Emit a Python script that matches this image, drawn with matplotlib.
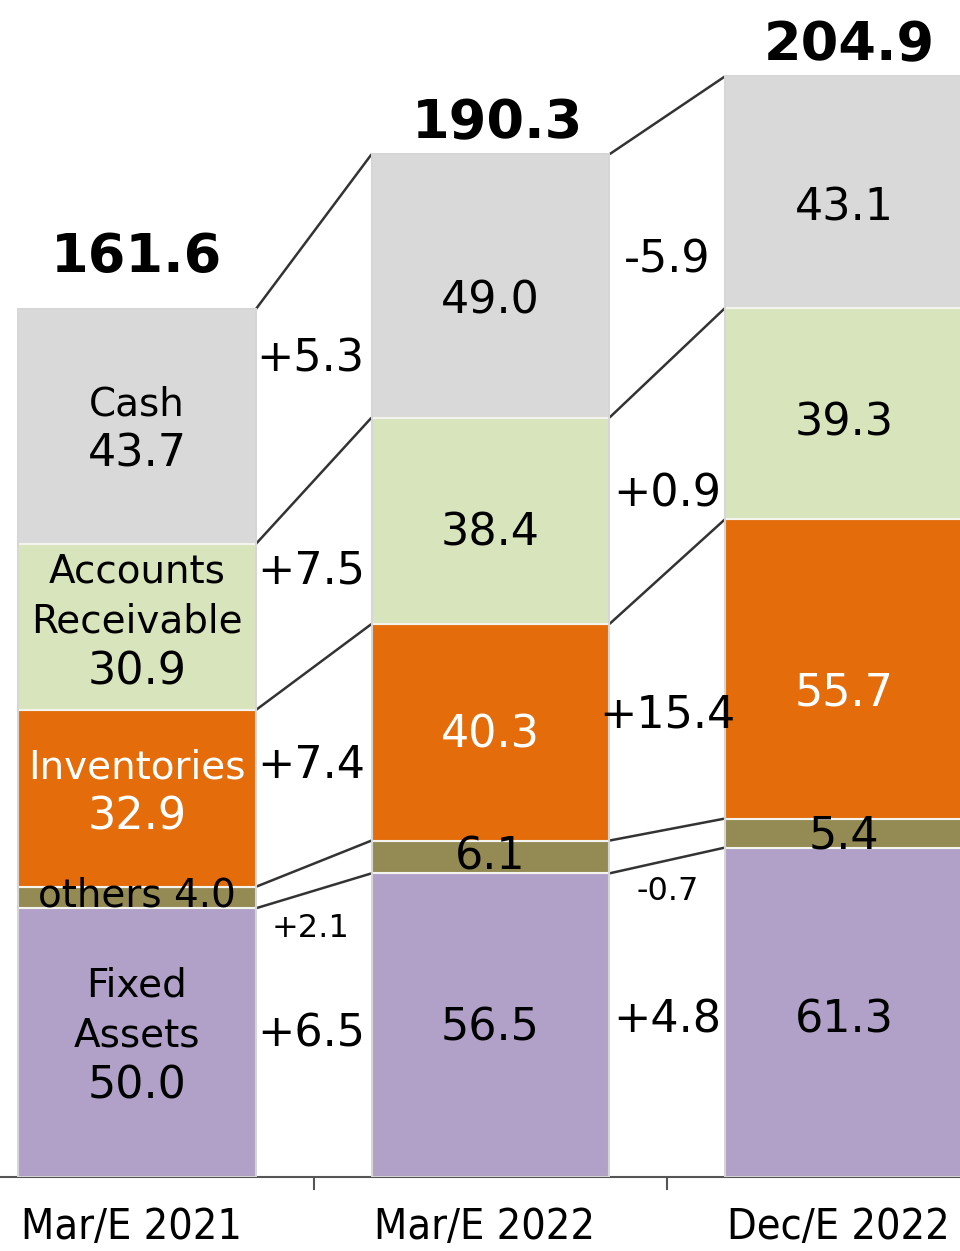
import matplotlib
matplotlib.use("Agg")
import matplotlib.pyplot as plt
from matplotlib.transforms import ScaledTranslation
import numpy as np

periods = ["Mar/E 2021", "Mar/E 2022", "Dec/E 2022"]
totals = ["161.6", "190.3", "204.9"]
fixed_assets = [50.0, 56.5, 61.3]
others = [4.0, 6.1, 5.4]
inventories = [32.9, 40.3, 55.7]
receivable = [30.9, 38.4, 39.3]
cash = [43.7, 49.0, 43.1]
changes_1 = ["+6.5", "+2.1", "+7.4", "+7.5", "+5.3"]
changes_2 = ["+4.8", "-0.7", "+15.4", "+0.9", "-5.9"]

series = [fixed_assets, others, inventories, receivable, cash]
colors = ["#B1A0C7", "#948A54", "#E46C0A", "#D8E4BC", "#D9D9D9"]
text_colors = ["black", "black", "white", "black", "black"]
first_labels = ["Fixed\nAssets\n{}", "others {}", "Inventories\n{}", "Accounts\nReceivable\n{}", "Cash\n{}"]

# layout tweaks (pixels, positive = down) for segment labels [segment][bar]
label_dy = [[-7, 3, 8], [-2, 0, 3], [-6, 3, 24], [-5, 12, 9], [3, 15, 16]]
# weight of right bar when placing change labels between bars
gap_w = [[0.5, 0.5, 0.5, 0.53, 0.48], [0.4, 0.5, 0.28, 0.25, 0.28]]
small_dy = [22, 16]   # pixels below the 'others' bottom connector
gap_dx = [-3, 0]

fig = plt.figure(figsize=(9.6, 12.51), dpi=100)
ax = fig.add_axes([0, 74 / 1251, 1, 1177 / 1251])
px = 72 / 100  # points per pixel

x = np.arange(len(periods))
width = 0.673
data = np.array(series)
bottoms = np.vstack([np.zeros(len(periods)), np.cumsum(data, axis=0)])

for k, vals in enumerate(series):
    ax.bar(x, vals, width, bottom=bottoms[k], color=colors[k],
           edgecolor="#f4f4ee", linewidth=1.5, zorder=2)

for i in range(len(periods)):
    ax.bar(x[i], bottoms[-1][i], width, bottom=0, fill=False,
           edgecolor="#d6d6d6", linewidth=1.4, zorder=3)

mids = bottoms[:-1] + data / 2
line_gap = 50  # pixels between lines of the first bar's labels
for k, vals in enumerate(series):
    for i, v in enumerate(vals):
        num = f"{v:.1f}"
        if i == 0:
            lines = first_labels[k].format(num).split("\n")
            n = len(lines)
            for j, line in enumerate(lines):
                dy = (j - (n - 1) / 2) * line_gap + label_dy[k][i]
                fs = 32 if line == num else 28
                ax.annotate(line, (x[i], mids[k][i]), xytext=(0, -dy * px),
                            textcoords="offset points", ha="center", va="center",
                            fontsize=fs, color=text_colors[k], zorder=4)
        else:
            ax.annotate(num, (x[i], mids[k][i]), xytext=(0, -label_dy[k][i] * px),
                        textcoords="offset points", ha="center", va="center",
                        fontsize=32, color=text_colors[k], zorder=4)

for i in range(len(periods) - 1):
    for k in range(1, len(series) + 1):
        ax.plot([x[i] + width / 2, x[i + 1] - width / 2],
                [bottoms[k][i], bottoms[k][i + 1]],
                color="#333333", linewidth=1.8, zorder=1, solid_capstyle="butt")

for i, changes in enumerate([changes_1, changes_2]):
    gx = (x[i] + x[i + 1]) / 2
    for k, c in enumerate(changes):
        if k == 1:
            yb = (bottoms[1][i] + bottoms[1][i + 1]) / 2
            ax.annotate(c, (gx, yb), xytext=(gap_dx[i] * px, -small_dy[i] * px),
                        textcoords="offset points", ha="center", va="top",
                        fontsize=23, zorder=4)
        else:
            w = gap_w[i][k]
            ym = mids[k][i] * (1 - w) + mids[k][i + 1] * w
            ax.annotate(c, (gx, ym), xytext=(gap_dx[i] * px, 0),
                        textcoords="offset points", ha="center", va="center",
                        fontsize=32, zorder=4)

tot_off = [(0, 26), (7, 5), (5, 5)]
for i, t in enumerate(totals):
    ax.annotate(t, (x[i], bottoms[-1][i]),
                xytext=(tot_off[i][0] * px, tot_off[i][1] * px),
                textcoords="offset points", ha="center", va="bottom",
                fontsize=39, fontweight="bold")

ax.set_xlim(-0.3875, 2.328)
ax.set_ylim(0, 219.0)
for s in ["left", "right", "top"]:
    ax.spines[s].set_visible(False)
ax.spines["bottom"].set_color("#555555")
ax.spines["bottom"].set_linewidth(1.5)
ax.set_yticks([])
ax.set_xticks(x)
ax.set_xticklabels(periods, fontsize=31, fontstretch="condensed")
ax.tick_params(axis="x", which="major", length=0, pad=21)
ax.set_xticks([0.5, 1.5], minor=True)
ax.tick_params(axis="x", which="minor", length=9, width=1.5, color="#555555", direction="out")
for lab in ax.get_xticklabels():
    lab.set_transform(lab.get_transform() + ScaledTranslation(-6 / 100, 0, fig.dpi_scale_trans))

fig.savefig("out.png", dpi=100)
